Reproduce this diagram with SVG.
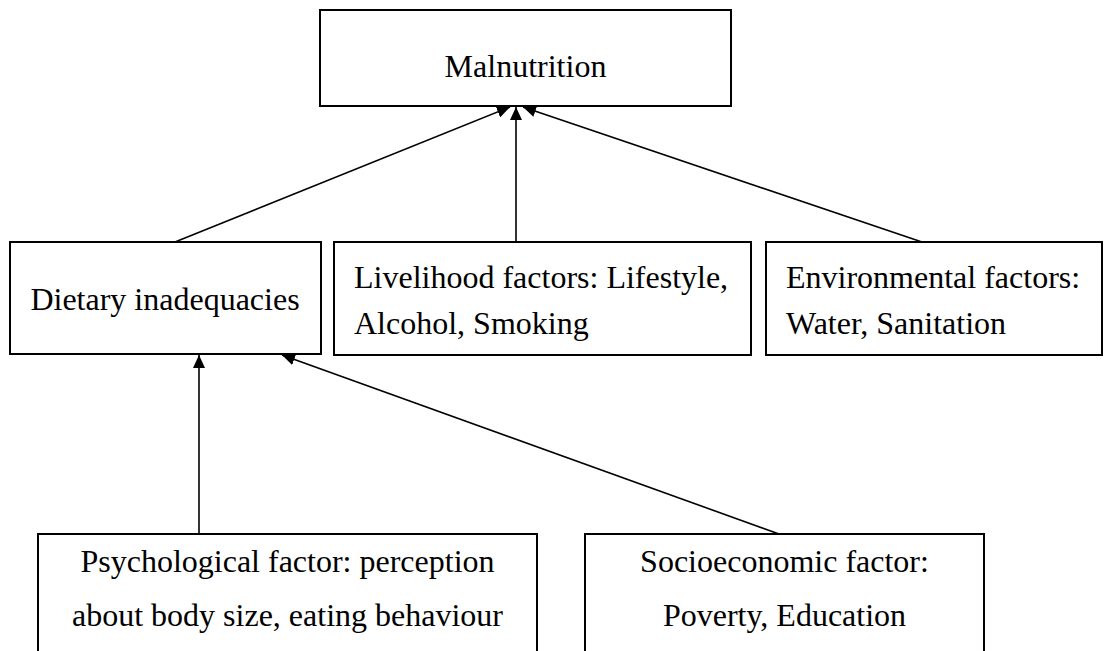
<svg xmlns="http://www.w3.org/2000/svg" width="1104" height="651" viewBox="0 0 1104 651">
  <defs>
    <style>
      .box { fill: #ffffff; stroke: #000000; stroke-width: 2; }
      .lbl { font-family: "Liberation Serif", "Times New Roman", serif; font-size: 32px; fill: #000000; }
      .mid { text-anchor: middle; }
      .edge { stroke: #000000; stroke-width: 1.6; fill: none; marker-end: url(#arrow); }
    </style>
    <marker id="arrow" markerUnits="userSpaceOnUse" markerWidth="14" markerHeight="12" refX="13" refY="6" orient="auto">
      <path d="M0,0 L13,6 L0,12 z" fill="#000000"/>
    </marker>
  </defs>
  <rect width="1104" height="651" fill="#ffffff"/>

  <g id="connectors">
    <line class="edge" x1="175" y1="242" x2="510" y2="107"/>
    <line class="edge" x1="516" y1="242" x2="516" y2="107"/>
    <line class="edge" x1="922" y1="242" x2="523" y2="107"/>
    <line class="edge" x1="199" y1="534" x2="199" y2="355"/>
    <line class="edge" x1="779" y1="534" x2="282" y2="355"/>
  </g>

  <g id="malnutrition">
    <rect class="box" x="320" y="10" width="411" height="96"/>
    <text class="lbl mid" x="525.5" y="77">Malnutrition</text>
  </g>

  <g id="dietary">
    <rect class="box" x="10" y="242" width="311" height="112"/>
    <text class="lbl mid" x="165" y="310">Dietary inadequacies</text>
  </g>

  <g id="livelihood">
    <rect class="box" x="334" y="242" width="417" height="113"/>
    <text class="lbl" x="354" y="288">Livelihood factors: Lifestyle,</text>
    <text class="lbl" x="354" y="334">Alcohol, Smoking</text>
  </g>

  <g id="environmental">
    <rect class="box" x="766" y="242" width="336" height="113"/>
    <text class="lbl" x="786" y="288">Environmental factors:</text>
    <text class="lbl" x="786" y="334">Water, Sanitation</text>
  </g>

  <g id="psychological">
    <rect class="box" x="38" y="534" width="499" height="130"/>
    <text class="lbl mid" x="287.5" y="572">Psychological factor: perception</text>
    <text class="lbl mid" x="287.5" y="626">about body size, eating behaviour</text>
  </g>

  <g id="socioeconomic">
    <rect class="box" x="585" y="534" width="399" height="130"/>
    <text class="lbl mid" x="784.5" y="572">Socioeconomic factor:</text>
    <text class="lbl mid" x="784.5" y="626">Poverty, Education</text>
  </g>
</svg>
